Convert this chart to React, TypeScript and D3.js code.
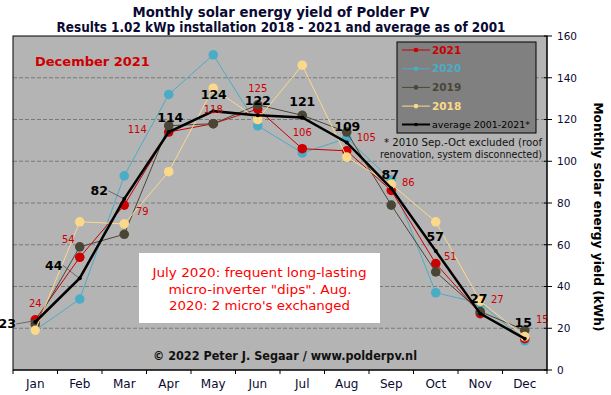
import React from "react";
import * as d3 from "d3";

// monthly yield in kWh
const months = ["Jan", "Feb", "Mar", "Apr", "May", "Jun", "Jul", "Aug", "Sep", "Oct", "Nov", "Dec"];
const avg = [23, 44, 82, 114, 124, 122, 121, 109, 87, 57, 27, 15];
const y2021 = [24, 54, 79, 114, 118, 125, 106, 105, 86, 51, 27, 15];
const y2020 = [19, 34, 93, 132, 151, 117, 104, 111, 91, 37, 32, 14];
const y2019 = [22, 59, 65, 117, 118, 127, 122, 114, 79, 47, 28, 19];
const y2018 = [19, 71, 70, 95, 135, 120, 146, 102, 89, 71, 33, 16];
const yTicks = [0, 20, 40, 60, 80, 100, 120, 140, 160];

// label offsets from the point (text centre)
const avgOff = [[-28, 2], [-26, -13], [-25, -8], [1.5, -14.5], [0.5, -16.5], [0, -15], [0, -16], [0.5, -15.5], [-1, -14], [-0.5, -15], [-1.5, -15.5], [-1.5, -16]];
const redOff = [[0, -17], [-11.5, -18], [18, 6], [-31.5, -3], [0, -14.5], [0, -21], [0, -16], [19.5, -13], [17, -8.5], [14.5, -7.5], [17, -14.5], [17.5, -19.5]];

const FONT = "'DejaVu Sans', Verdana, sans-serif";
const NAVY = "#0a0a33";

const series = [
  { name: "2020", values: y2020, color: "#4bacc6" },
  { name: "2021", values: y2021, color: "#cc0000" },
  { name: "2019", values: y2019, color: "#4a4636" },
  { name: "2018", values: y2018, color: "#fcd98a" },
];
const legendItems = [
  { name: "2021", color: "#cc0000" },
  { name: "2020", color: "#4bacc6" },
  { name: "2019", color: "#4a4636" },
  { name: "2018", color: "#fcd98a" },
];

export default function App() {
  const left = 13, right = 547, top = 36, bottom = 370;
  const x = d3.scaleBand().domain(months).range([left, right]).padding(0);
  const y = d3.scaleLinear().domain([0, 160]).range([bottom, top]);
  const cx = (i: number) => x(months[i])! + x.bandwidth() / 2;
  const line = d3.line<number>().x((_, i) => cx(i)).y((d) => y(d));

  return (
    <svg width={611} height={395} style={{ position: "absolute", left: 0, top: 0, background: "#fff" }} fontFamily={FONT}>
      <text x={281} y={17} textAnchor="middle" fontWeight="bold" fontSize={14} fill={NAVY} textLength={297} lengthAdjust="spacingAndGlyphs">
        Monthly solar energy yield of Polder PV
      </text>
      <text x={281} y={32} textAnchor="middle" fontWeight="bold" fontSize={13.5} fill={NAVY} textLength={449} lengthAdjust="spacingAndGlyphs">
        Results 1.02 kWp installation  2018 - 2021 and average as of 2001
      </text>

      <rect x={left} y={top} width={right - left} height={bottom - top} fill="#b4b4b4" />
      {yTicks.slice(1, -1).map((t) => (
        <line key={t} x1={left} x2={right} y1={y(t)} y2={y(t)} stroke="#7a7a7a" strokeDasharray="4,2" />
      ))}

      <text x={35} y={66} fontWeight="bold" fontSize={13} fill="#cc0000">December 2021</text>

      <rect x={139} y={253} width={241} height={70} fill="#fff" />
      <g fill="#ff0000" fontSize={12} textAnchor="middle">
        <text x={259.5} y={277} textLength={214} lengthAdjust="spacingAndGlyphs">July 2020: frequent long-lasting</text>
        <text x={260} y={293.5} textLength={183} lengthAdjust="spacingAndGlyphs">micro-inverter "dips". Aug.</text>
        <text x={259.5} y={309.5} textLength={181} lengthAdjust="spacingAndGlyphs">2020: 2 micro's exchanged</text>
      </g>
      <text x={153} y={360} fontWeight="bold" fontSize={12} fill="#111" textLength={264} lengthAdjust="spacingAndGlyphs">
        © 2022 Peter J. Segaar / www.polderpv.nl
      </text>

      <rect x={left} y={top} width={right - left} height={bottom - top} fill="none" stroke="#000" strokeWidth={1} />

      {series.map((s) => (
        <g key={s.name}>
          <path d={line(s.values)!} fill="none" stroke={s.color} strokeWidth={1} />
          {s.values.map((v, i) => (
            <circle key={i} cx={cx(i)} cy={y(v)} r={4.8} fill={s.color} />
          ))}
        </g>
      ))}

      {/* leader lines for average labels */}
      {[0, 1, 2].map((i) => (
        <line key={i} x1={cx(i) + avgOff[i][0] + 9} y1={y(avg[i]) + avgOff[i][1]} x2={cx(i) - 2} y2={y(avg[i]) - 1} stroke="#555" strokeWidth={0.8} />
      ))}
      <path d={line(avg)!} fill="none" stroke="#000" strokeWidth={2.5} />
      {avg.map((v, i) => (
        <circle key={i} cx={cx(i)} cy={y(v)} r={2} fill="#000" />
      ))}

      {y2021.map((v, i) => (
        <text key={i} x={cx(i) + redOff[i][0]} y={y(v) + redOff[i][1]} dy="0.36em" textAnchor="middle" fontSize={10} fill="#cc0000">
          {v}
        </text>
      ))}
      {avg.map((v, i) => (
        <text key={i} x={cx(i) + avgOff[i][0]} y={y(v) + avgOff[i][1]} dy="0.36em" textAnchor="middle" fontSize={12.5} fontWeight="bold" fill="#000">
          {v}
        </text>
      ))}

      {/* legend */}
      <rect x={397} y={42} width={139} height={91} fill="#808080" stroke="#000" strokeWidth={1} />
      {legendItems.map((l, i) => (
        <g key={l.name}>
          <line x1={402} x2={430} y1={50 + i * 18.7} y2={50 + i * 18.7} stroke={l.color} strokeWidth={1} />
          <circle cx={416} cy={50 + i * 18.7} r={2.3} fill={l.color} />
          <text x={432} y={50 + i * 18.7} dy="0.36em" fontSize={10.5} fontWeight="bold" fill={l.color}>{l.name}</text>
        </g>
      ))}
      <line x1={402} x2={430} y1={124.5} y2={124.5} stroke="#000" strokeWidth={2} />
      <circle cx={416} cy={124.5} r={1.8} fill="#000" />
      <text x={432} y={124.5} dy="0.36em" fontSize={9.5} fill="#000" textLength={98} lengthAdjust="spacingAndGlyphs">average 2001-2021*</text>

      <g fontSize={10} fill="#111" textAnchor="end">
        <text x={542} y={146} textLength={158} lengthAdjust="spacingAndGlyphs">* 2010 Sep.-Oct excluded (roof</text>
        <text x={542} y={157.5} textLength={162} lengthAdjust="spacingAndGlyphs">renovation, system disconnected)</text>
      </g>

      {/* right axis */}
      <line x1={right} x2={right} y1={top} y2={bottom} stroke="#000" />
      {yTicks.map((t) => (
        <g key={t}>
          <line x1={right - 3} x2={right + 5} y1={y(t)} y2={y(t)} stroke="#000" />
          <text x={557} y={y(t)} dy="0.36em" fontSize={10.5} fill={NAVY}>{t}</text>
        </g>
      ))}
      <text transform="translate(594,217) rotate(90)" textAnchor="middle" fontWeight="bold" fontSize={12} fill="#000" textLength={229} lengthAdjust="spacingAndGlyphs">
        Monthly solar energy yield (kWh)
      </text>

      {/* bottom axis */}
      <line x1={left} x2={right} y1={bottom} y2={bottom} stroke="#000" />
      {d3.range(13).map((i) => (
        <line key={i} x1={left + i * x.bandwidth()} x2={left + i * x.bandwidth()} y1={bottom} y2={bottom + 4} stroke="#000" />
      ))}
      {months.map((m, i) => (
        <text key={m} x={cx(i)} y={388} textAnchor="middle" fontSize={12} fill={NAVY}>{m}</text>
      ))}
    </svg>
  );
}
